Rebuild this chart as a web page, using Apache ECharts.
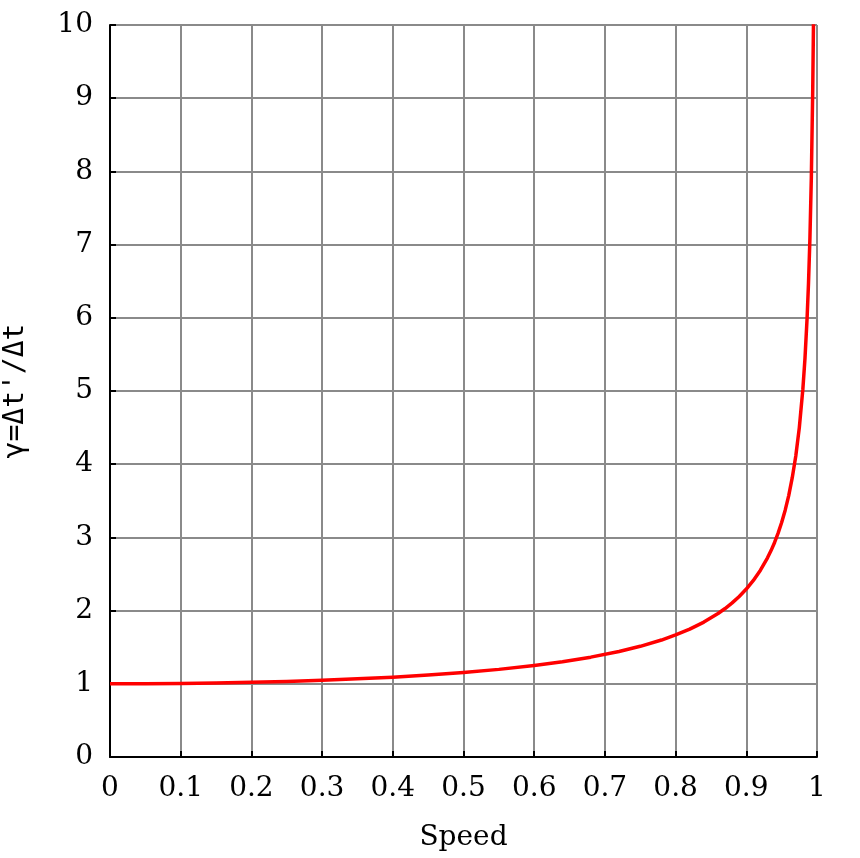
<!DOCTYPE html>
<html>
<head>
<meta charset="utf-8">
<script src="https://cdn.jsdelivr.net/npm/echarts@6/dist/echarts.min.js"></script>
<style>
html,body{margin:0;padding:0;background:#fff;}
#c{width:860px;height:858px;}
</style>
</head>
<body>
<div id="c"></div>
<script>
const speeds = [0, 0.05, 0.1, 0.15, 0.2, 0.25, 0.3, 0.35, 0.4, 0.45, 0.5, 0.55, 0.6, 0.64, 0.68, 0.72, 0.75, 0.78, 0.8, 0.82, 0.84, 0.86, 0.87, 0.88, 0.89, 0.9, 0.91, 0.92, 0.93, 0.935, 0.94, 0.945, 0.95, 0.955, 0.96, 0.965, 0.97, 0.975, 0.98, 0.983, 0.986, 0.988, 0.99, 0.992, 0.994, 0.995];
const gammas = [1, 1.001, 1.005, 1.011, 1.021, 1.033, 1.048, 1.068, 1.091, 1.120, 1.155, 1.197, 1.25, 1.301, 1.364, 1.441, 1.512, 1.598, 1.667, 1.747, 1.843, 1.960, 2.028, 2.105, 2.193, 2.294, 2.412, 2.552, 2.721, 2.820, 2.931, 3.058, 3.203, 3.372, 3.571, 3.816, 4.113, 4.500, 5.025, 5.446, 5.997, 6.475, 7.089, 7.922, 9.143, 10.01];
const xTickLabels = ['0','0.1','0.2','0.3','0.4','0.5','0.6','0.7','0.8','0.9','1'];
const yTickLabels = ['0','1','2','3','4','5','6','7','8','9','10'];
const xName = 'Speed';
const yName = "γ=Δt'/Δt";

const font = 'DejaVu Serif';
const chart = echarts.init(document.getElementById('c'), null, {renderer: 'canvas'});
chart.setOption({
  backgroundColor: '#ffffff',
  animation: false,
  grid: {left: 110, right: 43, top: 25, bottom: 101, show: false, containLabel: false, outerBoundsMode: 'none'},
  xAxis: {
    type: 'value', min: 0, max: 1, interval: 0.1,
    name: xName, nameLocation: 'middle', nameGap: 67,
    nameTextStyle: {fontFamily: font, fontSize: 28, color: '#000'},
    axisLine: {show: true, onZero: false, lineStyle: {color: '#000', width: 2}},
    axisTick: {show: true, inside: true, length: 6, lineStyle: {color: '#000', width: 2}},
    axisLabel: {fontFamily: font, fontSize: 28, color: '#000', margin: 18,
      formatter: (v) => xTickLabels[Math.round(v * 10)]},
    splitLine: {show: true, lineStyle: {color: '#8a8a8a', width: 2}}
  },
  yAxis: {
    type: 'value', min: 0, max: 10, interval: 1,
    name: yName, nameLocation: 'middle', nameGap: 80,
    nameTextStyle: {fontFamily: 'DejaVu Sans Mono', fontSize: 28, color: '#000'},
    axisLine: {show: true, onZero: false, lineStyle: {color: '#000', width: 2}},
    axisTick: {show: true, inside: true, length: 6, lineStyle: {color: '#000', width: 2}},
    axisLabel: {fontFamily: font, fontSize: 28, color: '#000', margin: 17,
      formatter: (v) => yTickLabels[Math.round(v)]},
    splitLine: {show: true, lineStyle: {color: '#8a8a8a', width: 2}}
  },
  series: [{
    type: 'line',
    data: speeds.map((s, i) => [s, gammas[i]]),
    showSymbol: false,
    smooth: false,
    clip: true,
    lineStyle: {color: '#ff0000', width: 3.5, join: 'round'},
    z: 5
  }]
});
</script>
</body>
</html>
